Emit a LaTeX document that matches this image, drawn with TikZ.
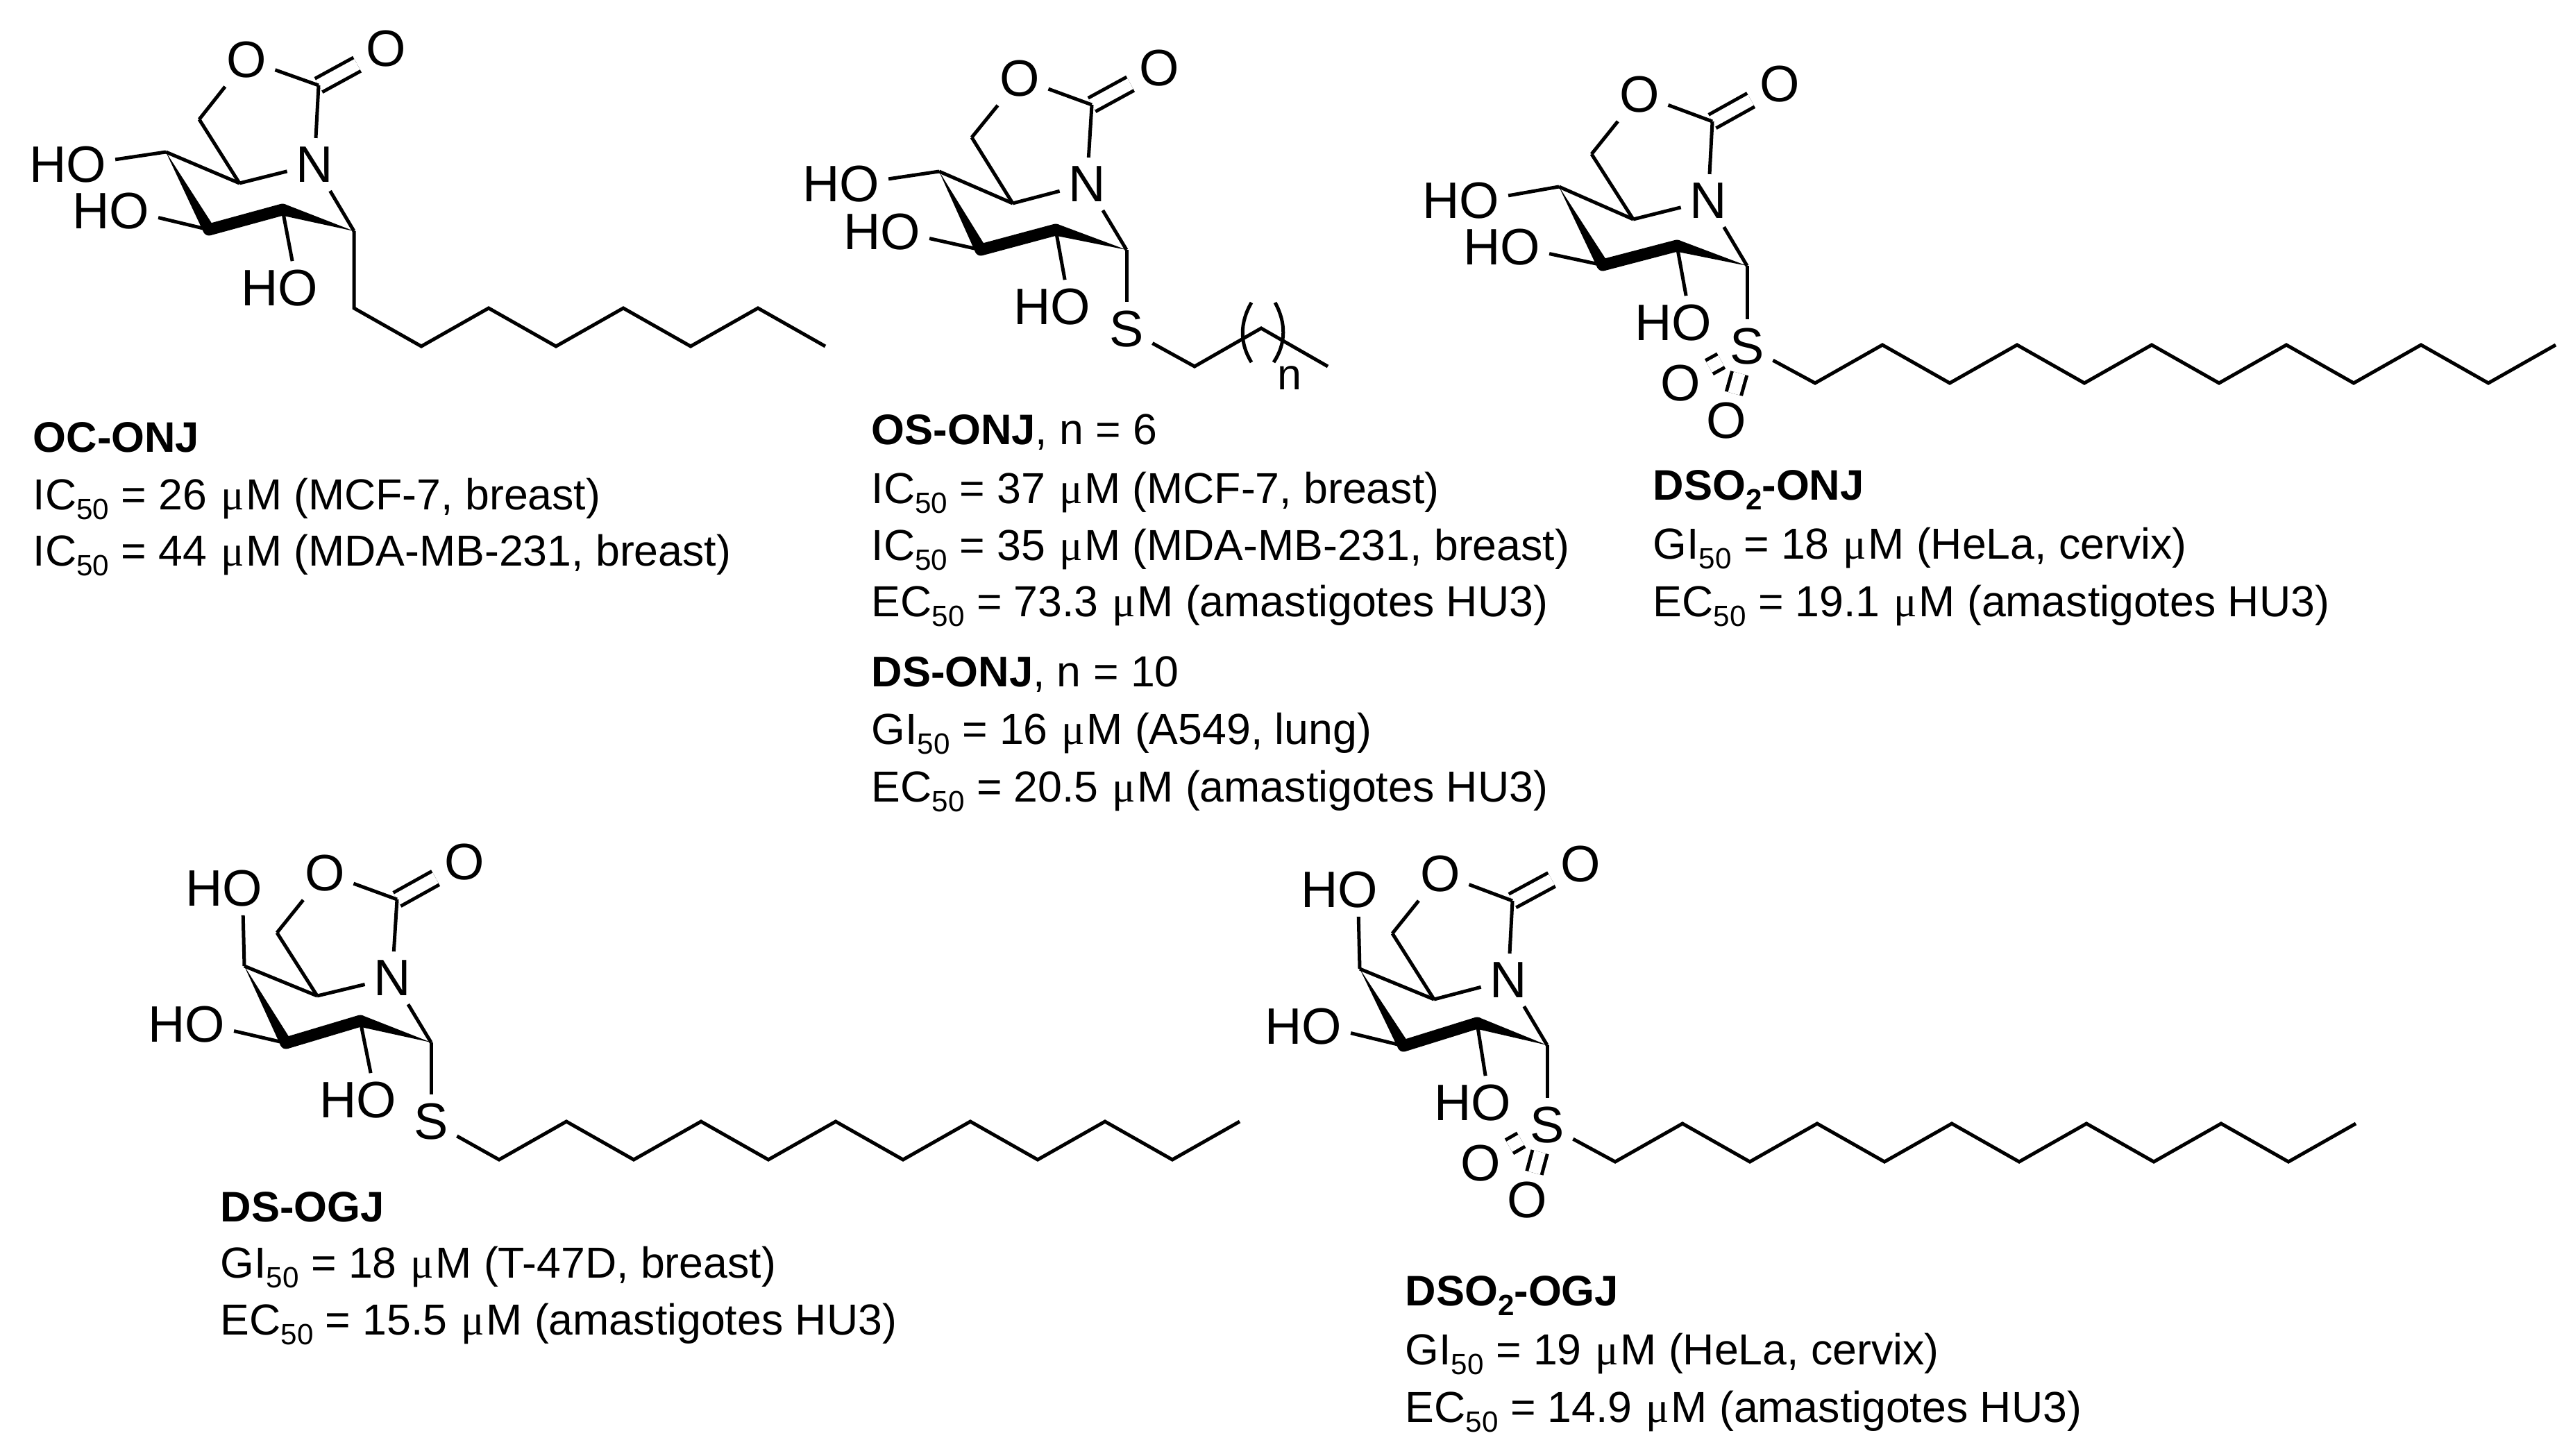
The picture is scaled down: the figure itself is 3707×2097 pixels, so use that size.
\documentclass[tikz,border=0pt]{standalone}
\usepackage{fontspec}
\setmainfont{Liberation Sans}
\newfontfamily\serifmu{Liberation Serif}
\usetikzlibrary{calc}
\newcommand{\ssub}[1]{\raisebox{-4pt}{\fontsize{12}{12}\selectfont #1}}
\newcommand{\mum}{\kern0.7pt{\serifmu μ}\kern0.7pt M}
\tikzset{
  bond/.style={line width=0.05cm,line cap=butt,black},
  dbond/.style={line width=0.05cm,double=white,double distance=0.17cm,black},
  boldbond/.style={line width=0.17cm,line cap=round,black},
  atom/.style={inner sep=0.12cm,font=\fontsize{21}{21}\selectfont,black},
  txt/.style={anchor=base west,inner sep=0,xshift=-0.02cm,yshift=0.01cm,font=\fontsize{17.8}{20}\selectfont,black},
  ttl/.style={txt,font=\fontsize{17.5}{20}\selectfont\bfseries},
}
% draws the oxazolidinone-fused sugar skeleton; #1 prefix, #2 anchor of first HO
\newcommand{\ringbonds}[2]{
  \draw[dbond] (#1Cc) -- (#1Oe);
  \draw[bond] (#1Cc) -- (#1Or);
  \draw[bond] (#1Or) -- (#1Cm);
  \draw[bond] (#1Cm) -- (#1C5);
  \draw[bond] (#1Cc) -- (#1N);
  \draw[bond] (#1C5) -- (#1N);
  \draw[bond] (#1C4) -- (#1C5);
  \draw[bond] (#1N) -- (#1C1);
  \draw[bond] (#1C4) -- (#1HOa.#2);
  \draw[bond] (#1C3) -- (#1HOb.-8);
  \draw[bond] (#1C2) -- (#1HOc.65);
  \fill[black] (#1C4) -- ($(#1C3)!0.085cm!90:(#1C4)$) -- ($(#1C3)!0.085cm!-90:(#1C4)$) -- cycle;
  \draw[boldbond] (#1C3) -- (#1C2);
  \fill[black] (#1C1) -- ($(#1C2)!0.085cm!90:(#1C1)$) -- ($(#1C2)!0.085cm!-90:(#1C1)$) -- cycle;
}
\begin{document}
\begin{tikzpicture}[x=0.01cm,y=-0.01cm]
\useasboundingbox (0,0) rectangle (3707,2097);
\fill[white] (0,0) rectangle (3707,2097);

% ---------- OC-ONJ
\node[atom] (aOr) at (355,86) {O};
\node[atom] (aOe) at (556,70) {O};
\node[atom] (aN) at (453,237) {N};
\node[atom] (aHOa) at (98,237) {HO};
\node[atom] (aHOb) at (160,304) {HO};
\node[atom] (aHOc) at (403,415) {HO};
\coordinate (aCc) at (459,123);
\coordinate (aCm) at (287,172);
\coordinate (aC5) at (345,264);
\coordinate (aC4) at (239,219);
\coordinate (aC3) at (301,331);
\coordinate (aC2) at (407,302);
\coordinate (aC1) at (510,333);
\coordinate (aV0) at (510,444);
\ringbonds{a}{6}
\draw[bond] (aC1) -- (aV0) \foreach \d in {55,-55,55,-55,55,-55,55} { -- ++(97,\d)};
\node[ttl] (aT) at (49,652) {OC-ONJ};
\node[txt] (aL1) at (49,735) {IC\ssub{50} = 26 \mum{} (MCF-7, breast)};
\node[txt] (aL2) at (49,816) {IC\ssub{50} = 44 \mum{} (MDA-MB-231, breast)};

% ---------- OS-ONJ / DS-ONJ
\node[atom] (bOr) at (1469,113) {O};
\node[atom] (bOe) at (1670,98) {O};
\node[atom] (bN) at (1566,265) {N};
\node[atom] (bHOa) at (1212,265) {HO};
\node[atom] (bHOb) at (1271,334) {HO};
\node[atom] (bHOc) at (1516,442) {HO};
\node[atom] (bS) at (1623,474) {S};
\coordinate (bCc) at (1573,151);
\coordinate (bCm) at (1400,198);
\coordinate (bC5) at (1459,293);
\coordinate (bC4) at (1353,247);
\coordinate (bC3) at (1413,360);
\coordinate (bC2) at (1521,331);
\coordinate (bC1) at (1623,360);
\coordinate (bV1) at (1721,528);
\coordinate (bV2) at (1817,473);
\coordinate (bV3) at (1913,528);
\ringbonds{b}{6}
\draw[bond] (bC1) -- (bS);
\draw[bond] (bS) -- (bV1) -- (bV2) -- (bV3);
\coordinate (bPa) at (1803,436);
\coordinate (bPb) at (1803,522);
\coordinate (bPc) at (1837,436);
\coordinate (bPd) at (1835,522);
\draw[bond] (bPa) .. controls (1786,465) and (1786,495) .. (bPb);
\draw[bond] (bPc) .. controls (1853,465) and (1853,495) .. (bPd);
\node[inner sep=0,font=\fontsize{17.9}{20}\selectfont] (bn) at (1858,545) {n};
\node[txt] (bT) at (1257,641) {\textbf{\fontsize{17.5}{20}\selectfont OS-ONJ}, n = 6};
\node[txt] (bL1) at (1257,726) {IC\ssub{50} = 37 \mum{} (MCF-7, breast)};
\node[txt] (bL2) at (1257,808) {IC\ssub{50} = 35 \mum{} (MDA-MB-231, breast)};
\node[txt] (bL3) at (1257,889) {EC\ssub{50} = 73.3 \mum{} (amastigotes HU3)};
\node[txt] (bT2) at (1257,990) {\textbf{\fontsize{17.5}{20}\selectfont DS-ONJ}, n = 10};
\node[txt] (bL4) at (1257,1073) {GI\ssub{50} = 16 \mum{} (A549, lung)};
\node[txt] (bL5) at (1257,1156) {EC\ssub{50} = 20.5 \mum{} (amastigotes HU3)};

% ---------- DSO2-ONJ
\node[atom] (cOr) at (2362,136) {O};
\node[atom] (cOe) at (2564,121) {O};
\node[atom] (cN) at (2461,289) {N};
\node[atom] (cHOa) at (2105,289) {HO};
\node[atom] (cHOb) at (2164,356) {HO};
\node[atom] (cHOc) at (2411,465) {HO};
\node[atom] (cS) at (2517,499) {S};
\node[atom] (cOs) at (2421,552) {O};
\node[atom] (cOt) at (2487,606) {O};
\coordinate (cCc) at (2467,175);
\coordinate (cCm) at (2293,222);
\coordinate (cC5) at (2353,316);
\coordinate (cC4) at (2246,269);
\coordinate (cC3) at (2309,382);
\coordinate (cC2) at (2416,354);
\coordinate (cC1) at (2517,383);
\coordinate (cV1) at (2615,552);
\ringbonds{c}{6}
\draw[bond] (cC1) -- (cS);
\draw[dbond] (cS) -- (cOs);
\draw[dbond] (cS) -- (cOt);
\draw[bond] (cS) -- (cV1) \foreach \d in {-55,55,-55,55,-55,55,-55,55,-55,55,-55} { -- ++(97,\d)};
\node[ttl] (cT) at (2383,721) {DSO\ssub{2}-ONJ};
\node[txt] (cL1) at (2383,806) {GI\ssub{50} = 18 \mum{} (HeLa, cervix)};
\node[txt] (cL2) at (2383,889) {EC\ssub{50} = 19.1 \mum{} (amastigotes HU3)};

% ---------- DS-OGJ
\node[atom] (dOr) at (468,1258) {O};
\node[atom] (dOe) at (669,1242) {O};
\node[atom] (dN) at (565,1409) {N};
\node[atom] (dHOa) at (323,1280) {HO};
\node[atom] (dHOb) at (269,1476) {HO};
\node[atom] (dHOc) at (516,1585) {HO};
\node[atom] (dS) at (621,1616) {S};
\coordinate (dCc) at (572,1296);
\coordinate (dCm) at (399,1344);
\coordinate (dC5) at (457,1435);
\coordinate (dC4) at (352,1392);
\coordinate (dC3) at (412,1503);
\coordinate (dC2) at (519,1471);
\coordinate (dC1) at (621,1502);
\coordinate (dV1) at (719,1671);
\ringbonds{d}{-55}
\draw[bond] (dC1) -- (dS);
\draw[bond] (dS) -- (dV1) \foreach \d in {-55,55,-55,55,-55,55,-55,55,-55,55,-55} { -- ++(97,\d)};
\node[ttl] (dT) at (319,1761) {DS-OGJ};
\node[txt] (dL1) at (319,1842) {GI\ssub{50} = 18 \mum{} (T-47D, breast)};
\node[txt] (dL2) at (319,1924) {EC\ssub{50} = 15.5 \mum{} (amastigotes HU3)};

% ---------- DSO2-OGJ
\node[atom] (eOr) at (2075,1259) {O};
\node[atom] (eOe) at (2277,1245) {O};
\node[atom] (eN) at (2173,1412) {N};
\node[atom] (eHOa) at (1930,1282) {HO};
\node[atom] (eHOb) at (1878,1479) {HO};
\node[atom] (eHOc) at (2122,1589) {HO};
\node[atom] (eS) at (2229,1621) {S};
\node[atom] (eOs) at (2133,1676) {O};
\node[atom] (eOt) at (2200,1729) {O};
\coordinate (eCc) at (2179,1298);
\coordinate (eCm) at (2006,1345);
\coordinate (eC5) at (2066,1440);
\coordinate (eC4) at (1959,1396);
\coordinate (eC3) at (2022,1507);
\coordinate (eC2) at (2128,1474);
\coordinate (eC1) at (2229,1506);
\coordinate (eV1) at (2327,1674);
\ringbonds{e}{-55}
\draw[bond] (eC1) -- (eS);
\draw[dbond] (eS) -- (eOs);
\draw[dbond] (eS) -- (eOt);
\draw[bond] (eS) -- (eV1) \foreach \d in {-55,55,-55,55,-55,55,-55,55,-55,55,-55} { -- ++(97,\d)};
\node[ttl] (eT) at (2026,1882) {DSO\ssub{2}-OGJ};
\node[txt] (eL1) at (2026,1967) {GI\ssub{50} = 19 \mum{} (HeLa, cervix)};
\node[txt] (eL2) at (2026,2050) {EC\ssub{50} = 14.9 \mum{} (amastigotes HU3)};
\end{tikzpicture}
\end{document}
